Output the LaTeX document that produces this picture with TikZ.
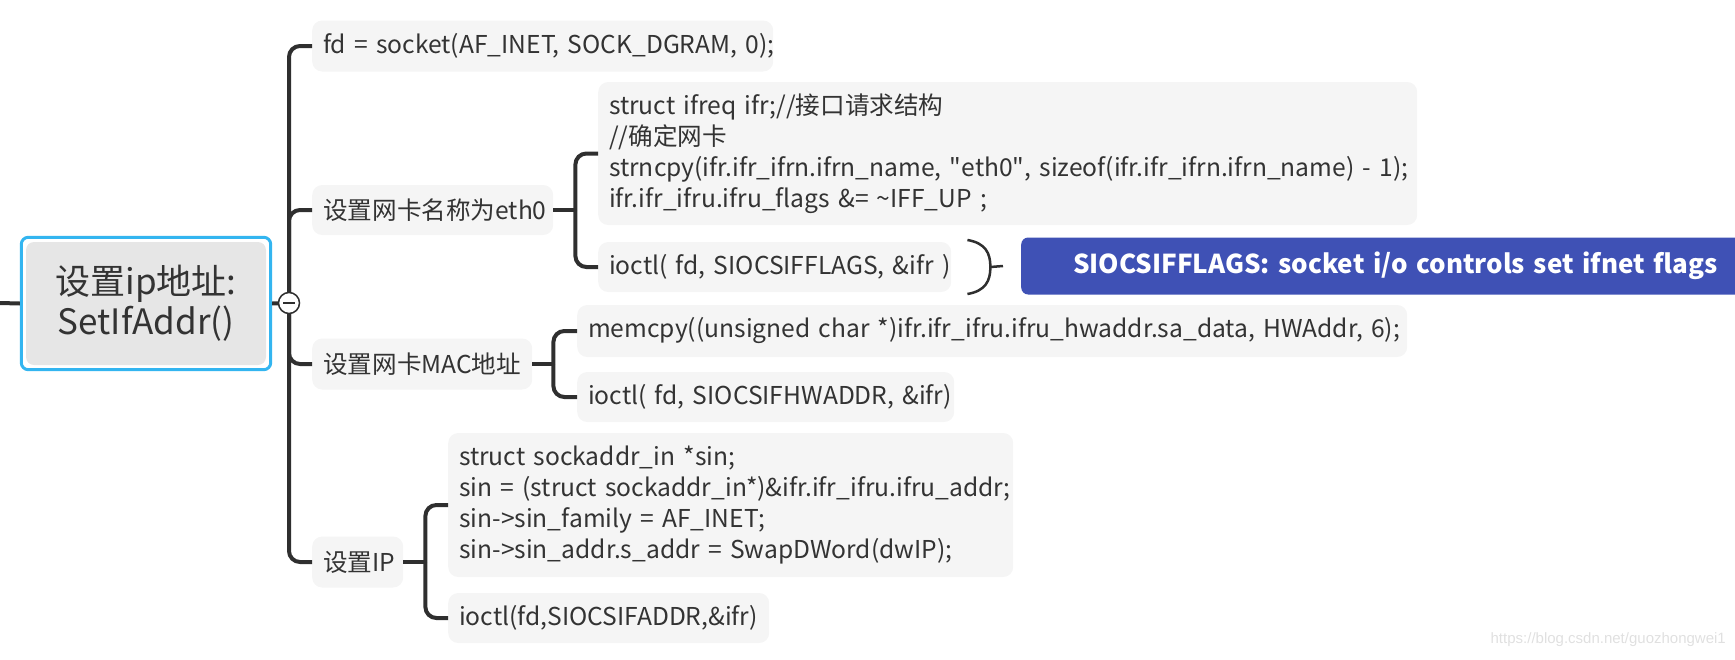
\documentclass[tikz,border=0pt]{standalone}
\usepackage{fontspec}
\setmainfont{Noto Sans CJK SC}
\setmonofont{Noto Sans CJK SC}
\newfontfamily\wmfont{Liberation Sans}
\usetikzlibrary{calc}
\definecolor{linec}{HTML}{2F2F2F}
\definecolor{boxc}{HTML}{F5F5F5}
\definecolor{txtc}{HTML}{333333}
\definecolor{rootfill}{HTML}{E6E6E6}
\definecolor{rootframe}{HTML}{33B5F0}
\definecolor{notec}{HTML}{3F51B5}
\definecolor{wmc}{HTML}{E0E0E0}
\newcommand{\sq}{{\ttfamily\symbol{34}}}
\begin{document}
\begin{tikzpicture}[x=1pt,y=-1pt,
  topic/.style={fill=boxc, rounded corners=10pt, anchor=west, inner xsep=11pt, inner ysep=0pt, align=left, text=txtc, font=\fontsize{24.6}{31}\selectfont},
  branch/.style={draw=linec, line width=4pt, rounded corners=11pt},
  thinline/.style={draw=linec, line width=2.5pt},
]
\useasboundingbox (0,0) rectangle (1735,659);
\clip (0,0) rectangle (1735,659);

% root
\node[fill=rootfill, rounded corners=8pt, minimum width=240pt, minimum height=123pt, inner sep=0pt, align=center, text=txtc, font=\fontsize{35}{40}\selectfont] (root) at (146,303.5) {设置ip地址:\\SetIfAddr()};
\draw[rootframe, line width=3pt, rounded corners=7pt] ($(root.north west)+(-4.5,-4.5)$) rectangle ($(root.south east)+(4.5,4.5)$);
\coordinate (lin) at (0,303);
\draw[linec, line width=4pt] (lin) -- ($(root.west)+(-6,0)$);

% level 1
\node[topic, minimum height=51pt, text width=439pt] (c1) at (312,46) {\mbox{fd = socket(AF\_INET, SOCK\_DGRAM, 0);}};
\node[topic, minimum height=50pt, text width=219pt] (c2) at (312,210) {\mbox{设置网卡名称为eth0}};
\node[topic, minimum height=51pt, text width=198pt] (c3) at (312,364) {\mbox{设置网卡MAC地址}};
\node[topic, minimum height=51pt, text width=69pt] (c4) at (312,562) {\mbox{设置IP}};

% level 2
\node[topic, minimum height=143pt, text width=797pt] (n2a) at (598,153.5) {\mbox{struct ifreq ifr;//接口请求结构}\\\mbox{//确定网卡}\\\mbox{strncpy(ifr.ifr\_ifrn.ifrn\_name, \sq eth0\sq, sizeof(ifr.ifr\_ifrn.ifrn\_name) - 1);}\\\mbox{ifr.ifr\_ifru.ifru\_flags \&= \textasciitilde IFF\_UP ;}};
\node[topic, minimum height=50pt, text width=331pt] (n2b) at (598,267) {\mbox{ioctl( fd, SIOCSIFFLAGS, \&ifr )}};
\node[topic, minimum height=52pt, text width=808pt] (n3a) at (577,331) {\mbox{memcpy((unsigned char *)ifr.ifr\_ifru.ifru\_hwaddr.sa\_data, HWAddr, 6);}};
\node[topic, minimum height=50pt, text width=355pt] (n3b) at (577,397) {\mbox{ioctl( fd, SIOCSIFHWADDR, \&ifr)}};
\node[topic, minimum height=144pt, text width=543pt] (n4a) at (448,505) {\mbox{struct sockaddr\_in *sin;}\\\mbox{sin = (struct sockaddr\_in*)\&ifr.ifr\_ifru.ifru\_addr;}\\\mbox{sin->sin\_family = AF\_INET;}\\\mbox{sin->sin\_addr.s\_addr = SwapDWord(dwIP);}};
\node[topic, minimum height=50pt, text width=299pt] (n4b) at (448,618) {\mbox{ioctl(fd,SIOCSIFADDR,\&ifr)}};

% callout
\node[fill=notec, rounded corners=7pt, anchor=west, minimum height=57pt, text width=720pt, inner xsep=52pt, inner ysep=0pt, align=left, text=white, font=\bfseries\fontsize{26}{30}\selectfont] (note) at (1021,266) {SIOCSIFFLAGS: socket i/o controls set ifnet flags};

% watermark
\node[anchor=east, inner sep=0pt, text=wmc, font=\wmfont\fontsize{15}{18}\selectfont] (wm) at (1726,640) {https://blog.csdn.net/guozhongwei1};

% main branches
\coordinate (hub) at (289,303);
\foreach \c in {c1,c2,c3,c4} \draw[branch] (hub) |- (\c.west);
\draw[linec, line width=4pt] ($(root.east)+(6,0)$) -- (hub);

% sub branches
\draw[branch] (c2.east) -- ++(22,0) coordinate (s2);
\draw[branch] (s2) |- (n2a.west);
\draw[branch] (s2) |- (n2b.west);
\draw[branch] (c3.east) -- ++(21,0) coordinate (s3);
\draw[branch] (s3) |- (n3a.west);
\draw[branch] (s3) |- (n3b.west);
\draw[branch] (c4.east) -- ++(22,0) coordinate (s4);
\draw[branch] (s4) |- (n4a.west);
\draw[branch] (s4) |- (n4b.west);

% brace to callout
\draw[thinline] ($(n2b.east)+(16,-27)$) .. controls +(18,3) and +(0,-14) .. ($(n2b.east)+(39,0)$) coordinate (bx) .. controls +(0,14) and +(18,-3) .. ($(n2b.east)+(16,27)$);
\draw[thinline] (bx) -- ($(note.west)+(-18,0)$);

% fold circle
\node[circle, draw=linec, fill=white, line width=1.5pt, minimum size=21pt, inner sep=0pt] (fold) at (hub) {};
\draw[linec, line width=1.5pt] ($(fold.center)+(-6,0)$) -- ($(fold.center)+(6,0)$);
\end{tikzpicture}
\end{document}
